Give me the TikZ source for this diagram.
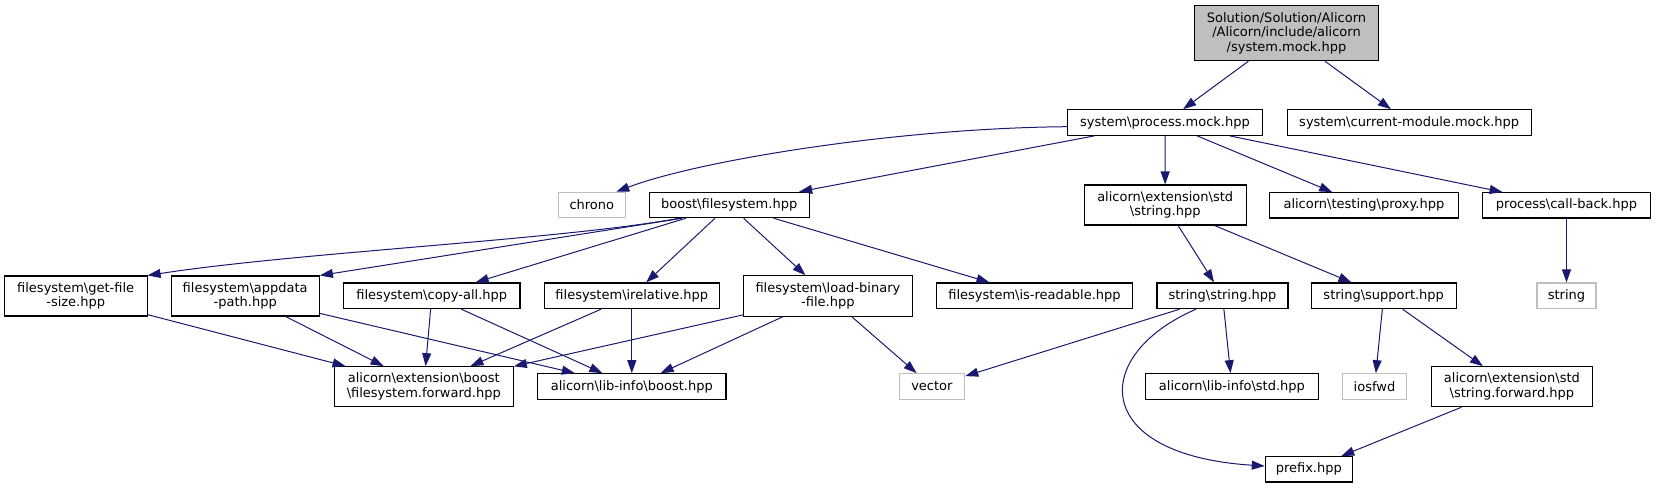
\documentclass[tikz,border=0pt]{standalone}
\usepackage{fontspec}
\setmainfont{DejaVu Sans}
\usetikzlibrary{arrows.meta}
\definecolor{edgec}{HTML}{191970}
\definecolor{greyc}{HTML}{BFBFBF}
\newcommand{\bsl}{\textbackslash}
\begin{document}
\begin{tikzpicture}[x=1pt,y=-1pt,
  box/.style={draw=black,line width=1.1pt,inner sep=0pt,align=center,font=\fontsize{13}{14.7}\selectfont},
  ext/.style={box,draw=greyc},
  edge/.style={draw=edgec,line width=1pt,-{Triangle[length=13pt,width=9pt]}},
]
\useasboundingbox (0,0) rectangle (1656,488);
% nodes
\node[box,fill=greyc,minimum width=184.4,minimum height=55] (root) at (1286.5,33.2) {Solution/Solution/Alicorn\\/Alicorn/include/alicorn\\/system.mock.hpp};
\node[box,minimum width=195.4,minimum height=25.6] (process) at (1165,122.5) {system\bsl process.mock.hpp};
\node[box,minimum width=244.3,minimum height=25.6] (current) at (1409.2,122.5) {system\bsl current-module.mock.hpp};
\node[ext,minimum width=67,minimum height=25.4] (chrono) at (591.8,205) {chrono};
\node[box,minimum width=160.3,minimum height=25.4] (boost) at (729.2,205) {boost\bsl filesystem.hpp};
\node[box,minimum width=161.7,minimum height=40] (estring) at (1165.2,205) {alicorn\bsl extension\bsl std\\\bsl string.hpp};
\node[box,minimum width=188.3,minimum height=25.3] (proxy) at (1363.9,205.3) {alicorn\bsl testing\bsl proxy.hpp};
\node[box,minimum width=168.4,minimum height=25.3] (callback) at (1566.5,205.3) {process\bsl call-back.hpp};
\node[box,minimum width=142.7,minimum height=40] (getfile) at (75.7,296) {filesystem\bsl get-file\\-size.hpp};
\node[box,minimum width=148.3,minimum height=40] (appdata) at (245.2,296) {filesystem\bsl appdata\\-path.hpp};
\node[box,minimum width=176.3,minimum height=25.7] (copyall) at (431.8,295.8) {filesystem\bsl copy-all.hpp};
\node[box,minimum width=175,minimum height=25.7] (irelative) at (631.8,295.8) {filesystem\bsl irelative.hpp};
\node[box,minimum width=168.3,minimum height=40.3] (loadbin) at (827.9,295.9) {filesystem\bsl load-binary\\-file.hpp};
\node[box,minimum width=196.4,minimum height=25.7] (isread) at (1034.5,295.8) {filesystem\bsl is-readable.hpp};
\node[box,minimum width=131,minimum height=25.7] (sstring) at (1222.5,295.8) {string\bsl string.hpp};
\node[box,minimum width=144.7,minimum height=25.7] (support) at (1383.7,295.8) {string\bsl support.hpp};
\node[ext,minimum width=59,minimum height=25.7] (string) at (1566.5,295.8) {string};
\node[box,minimum width=179,minimum height=39.6] (efsf) at (423.8,386.5) {alicorn\bsl extension\bsl boost\\\bsl filesystem.forward.hpp};
\node[box,minimum width=188.3,minimum height=25.6] (libboost) at (631.8,386.5) {alicorn\bsl lib-info\bsl boost.hpp};
\node[ext,minimum width=65.7,minimum height=25.6] (vector) at (931.9,386.5) {vector};
\node[box,minimum width=172.3,minimum height=25.6] (libstd) at (1231.9,386.5) {alicorn\bsl lib-info\bsl std.hpp};
\node[ext,minimum width=64.4,minimum height=25.6] (iosfwd) at (1374.5,386.5) {iosfwd};
\node[box,minimum width=161.7,minimum height=40] (forward) at (1511.9,386.7) {alicorn\bsl extension\bsl std\\\bsl string.forward.hpp};
\node[box,minimum width=87,minimum height=25.3] (prefix) at (1308.8,469.3) {prefix.hpp};
% edges
\draw[edge] (root) -- (process);
\draw[edge] (root) -- (current);
\draw[edge] ([yshift=-4.2pt]process.west) .. controls (900,128) and (700,160) .. ([xshift=-9.6pt]chrono.north east);
\draw[edge] (process) -- (boost);
\draw[edge] (process) -- (estring);
\draw[edge] (process) -- (proxy);
\draw[edge] (process) -- (callback);
\draw[edge] ([xshift=-50pt]boost.south) .. controls (560,240) and (300,252) .. (getfile.north east);
\draw[edge] ([xshift=-47pt]boost.south) -- (appdata.north east);
\draw[edge] (boost) -- (copyall);
\draw[edge] (boost) -- (irelative);
\draw[edge] (boost) -- (loadbin);
\draw[edge] (boost) -- (isread);
\draw[edge] (estring) -- (sstring);
\draw[edge] (estring) -- (support);
\draw[edge] (callback) -- (string);
\draw[edge] (getfile) -- (efsf);
\draw[edge] (appdata) -- (efsf);
\draw[edge] (appdata) -- (libboost);
\draw[edge] (copyall) -- (efsf);
\draw[edge] (copyall) -- (libboost);
\draw[edge] (irelative) -- (efsf);
\draw[edge] (irelative) -- (libboost);
\draw[edge] (loadbin) -- (efsf);
\draw[edge] (loadbin) -- (libboost);
\draw[edge] (loadbin) -- (vector);
\draw[edge] (sstring) -- (vector);
\draw[edge] (sstring) -- (libstd);
\draw[edge] ([xshift=-26.5pt]sstring.south) .. controls (1090,355) and (1090,455) .. ([yshift=3.3pt]prefix.west);
\draw[edge] (support) -- (iosfwd);
\draw[edge] (support) -- (forward);
\draw[edge] (forward) -- (prefix);
\end{tikzpicture}
\end{document}
